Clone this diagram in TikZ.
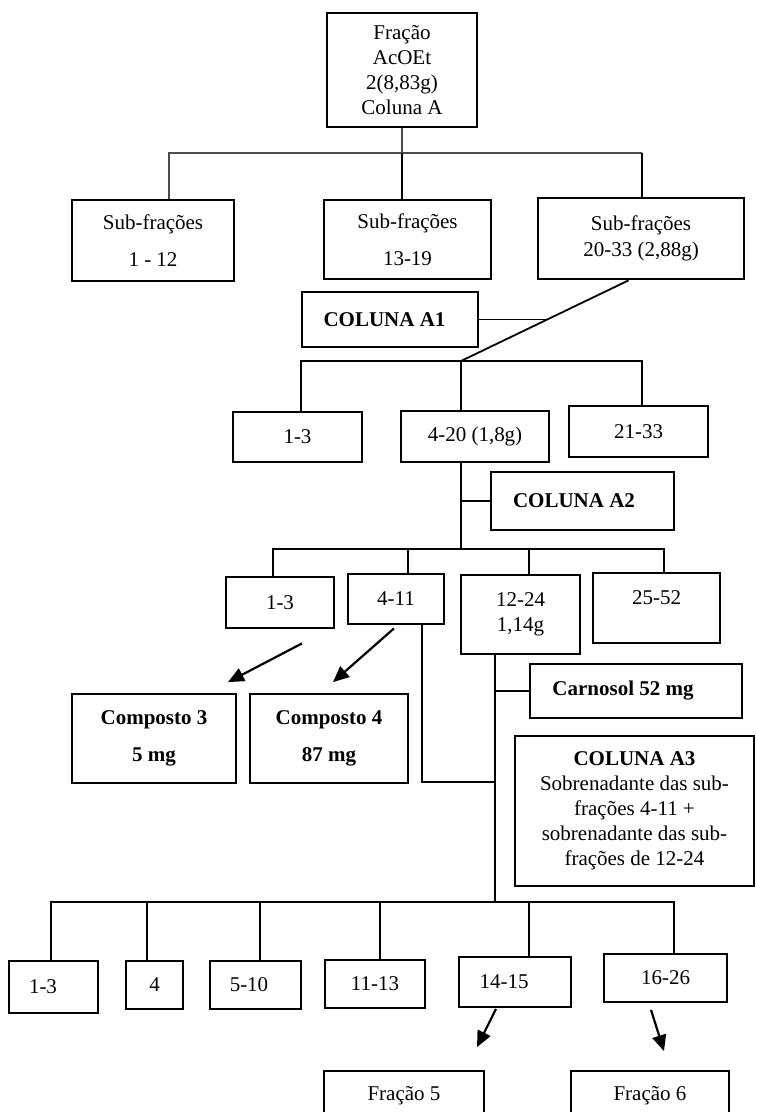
\documentclass[tikz,border=0pt]{standalone}
\usepackage{fontspec}
\setmainfont{Liberation Serif}
\usetikzlibrary{arrows.meta,positioning,calc}

\begin{document}
\begin{tikzpicture}[
  x=1pt, y=-1pt,
  font=\fontsize{21}{25}\selectfont,
  box/.style={draw, line width=1.8pt, align=center, inner sep=0pt},
  bbox/.style={box, line width=2.8pt},
  con/.style={line width=1.8pt},
  fine/.style={line width=1.1pt, black!70},
  arr/.style={-{Triangle[length=16pt,width=14pt]}, line width=2.2pt}
]
  \path[use as bounding box, clip] (0,0) rectangle (756,1112);

  \node[bbox, minimum width=150pt, minimum height=114pt] (fr) at (402,70) {Fração\\ AcOEt\\2(8,83g)\\Coluna A};

  \node[bbox, minimum width=162pt, minimum height=81pt] (s1) at (153,240.5) {Sub-frações\\[12pt]1 - 12};
  \node[bbox, minimum width=167pt, minimum height=79pt] (s2) at (407.5,239.5) {Sub-frações\\[12pt]13-19};
  \node[bbox, minimum width=206pt, minimum height=81pt] (s3) at (641,238.5) {Sub-frações\\[1pt]20-33 (2,88g)};
  \node[box, minimum width=176pt, minimum height=55pt] (a1) at (390,319.5) {\textbf{COLUNA A1}\hspace*{11pt}};

  \node[bbox, minimum width=129pt, minimum height=50pt] (p1) at (297.5,437) {1-3};
  \node[bbox, minimum width=148pt, minimum height=51pt] (p2) at (475,436.5) {4-20 (1,8g)};
  \node[bbox, minimum width=139pt, minimum height=51pt] (p3) at (638.5,431.5) {21-33};
  \node[box, minimum width=183pt, minimum height=58pt] (a2) at (582.5,501) {\textbf{COLUNA A2}\hspace*{17pt}};

  \node[bbox, minimum width=108pt, minimum height=51pt] (q1) at (280,602.5) {1-3};
  \node[bbox, minimum width=96pt, minimum height=50pt] (q2) at (396,599) {4-11};
  \node[bbox, minimum width=119pt, minimum height=79pt] (q3) at (520.5,614.5) {12-24\\1,14g};
  \node[bbox, minimum width=127pt, minimum height=70pt] (q4) at (656.5,608) {\raisebox{10pt}[\height][\depth]{25-52}};

  \node[box, minimum width=164pt, minimum height=89pt] (c3) at (154,738.5) {\textbf{Composto 3}\\[12pt]\textbf{5 mg}};
  \node[box, minimum width=158pt, minimum height=89pt] (c4) at (329,738.5) {\textbf{Composto 4}\\[12pt]\textbf{87 mg}};
  \node[box, minimum width=212pt, minimum height=54pt] (cs) at (636,691) {\textbf{Carnosol 52 mg}\hspace*{26pt}};
  \node[box, minimum width=239pt, minimum height=150pt] (a3) at (634.5,811) {\textbf{COLUNA A3}\\Sobrenadante das sub-\\frações 4-11 +\\sobrenadante das sub-\\frações de 12-24};

  \node[box, minimum width=89pt, minimum height=52pt] (u1) at (53.5,987) {1-3\hspace*{21pt}};
  \node[box, minimum width=57pt, minimum height=48pt] (u2) at (154.5,985) {4};
  \node[box, minimum width=91pt, minimum height=48pt] (u3) at (255.5,985) {5-10\hspace*{13pt}};
  \node[box, minimum width=100pt, minimum height=48pt] (u4) at (375,984) {11-13};
  \node[box, minimum width=112pt, minimum height=50pt] (u5) at (515,982) {14-15\hspace*{22pt}};
  \node[box, minimum width=123pt, minimum height=48pt] (u6) at (665.5,978) {16-26};
  \node[box, minimum width=160pt, minimum height=50pt] (f5) at (404,1096) {Fração 5};
  \node[box, minimum width=158pt, minimum height=50pt] (f6) at (650,1096) {Fração 6};

  \coordinate (h1l) at (169,153);
  \coordinate (h1r) at (642,153);
  \coordinate (h2) at (461,361);
  \coordinate (h2l) at (301,361);
  \coordinate (h2r) at (642,361);
  \coordinate (h3) at (461,549);
  \coordinate (h3l) at (273,549);
  \coordinate (h3r) at (664,549);
  \coordinate (h3b) at (408,549);
  \coordinate (h3c) at (529,549);
  \coordinate (h4) at (495,902);
  \coordinate (h4l) at (51,902);
  \coordinate (h4r) at (674,902);
  \coordinate (k1) at (495,782);
  \coordinate (d0) at ($(s3.south west)!0.44!(s3.south east)$);
  \coordinate (d1) at ($(d0)!0.49!(h2)$);

  \draw[fine] (fr.south) -- (fr.south |- h1l);
  \draw[fine] (s1.north -| h1l) -- (h1l) -- (h1r);
  \draw[con] (fr.south |- h1l) -- (fr.south |- s2.north);
  \draw[con] (h1r) -- (h1r |- s3.north);

  \draw[con] (d0) -- (h2);
  \draw[con] (a1.east) -- (a1.east -| d1);
  \draw[con] (h2l |- p1.north) -- (h2l) -- (h2r) -- (h2r |- p3.north);
  \draw[con] (h2) -- (h2 |- p2.north);

  \draw[con] (h2 |- p2.south) -- (h3);
  \draw[con] (h3 |- a2.west) -- (a2.west);
  \draw[con] (h3l |- q1.north) -- (h3l) -- (h3r) -- (h3r |- q4.north);
  \draw[con] (h3b) -- (h3b |- q2.north);
  \draw[con] (h3c) -- (h3c |- q3.north);

  \draw[arr] ([xshift=22pt,yshift=-14pt]q1.south) -- ([xshift=74pt,yshift=11pt]c3.north);
  \draw[arr] ([xshift=-2pt,yshift=-3pt]q2.south) -- ([xshift=4pt,yshift=11pt]c4.north);

  \draw[con] ([xshift=26pt]q2.south) |- (k1);
  \draw[con] (h4 |- q3.south) -- (h4);
  \draw[con] (h4 |- cs.west) -- (cs.west);
  \draw[con] (h4l |- u1.north) -- (h4l) -- (h4r) -- (h4r |- u6.north);
  \foreach \x/\n in {147/u2, 260/u3, 380/u4, 529/u5} {
    \coordinate (t\n) at (\x,902);
    \draw[con] (t\n) -- (t\n |- \n.north);
  }

  \draw[arr] ([xshift=-19pt,yshift=-1pt]u5.south) -- ([xshift=73pt,yshift=23pt]f5.north);
  \draw[arr] ([xshift=-14.5pt,yshift=-7pt]u6.south) -- ([xshift=14pt,yshift=19pt]f6.north);
\end{tikzpicture}
\end{document}
